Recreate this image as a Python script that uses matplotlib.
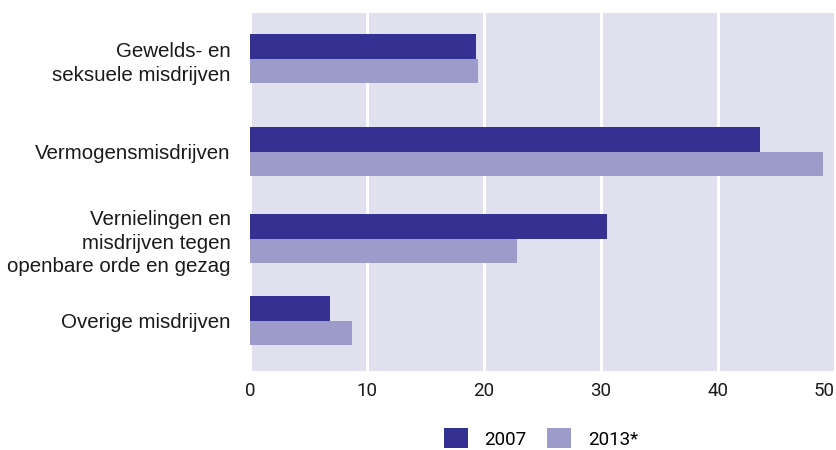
import matplotlib
matplotlib.use("Agg")
import matplotlib.pyplot as plt
from matplotlib.patches import Patch

# Data: share per offence category (%)
categories = [
    "Gewelds- en\nseksuele misdrijven",
    "Vermogensmisdrijven",
    "Vernielingen en\nmisdrijven tegen\nopenbare orde en gezag",
    "Overige misdrijven",
]
values_2007 = [19.3, 43.6, 30.5, 6.8]
values_2013 = [19.5, 49.0, 22.8, 8.7]
series_labels = ["2007", "2013*"]
x_ticks = [0, 10, 20, 30, 40, 50]

# Layout: vertical centre of each category group (axis units, top to bottom)
group_centres = [59, 152, 238.7, 321]
bar_h = 24.5

dark = "#343192"
light = "#9d9bc9"
bg = "#e1e0ef"

fig = plt.figure(figsize=(8.37, 4.5), dpi=100)
ax = fig.add_axes([250 / 837, 1 - 370.7 / 450, (837 - 250) / 837, (370.7 - 13) / 450])
ax.set_facecolor(bg)

ax.barh([c - bar_h / 2 for c in group_centres], values_2007, height=bar_h,
        color=dark, zorder=3, linewidth=0)
ax.barh([c + bar_h / 2 for c in group_centres], values_2013, height=bar_h,
        color=light, zorder=3, linewidth=0)

ax.set_xlim(0, 50.17)
ax.set_ylim(370.7, 13)
ax.set_xticks(x_ticks)
xlabels = ax.set_xticklabels([str(t) for t in x_ticks],
                             fontfamily=["Liberation Sans Narrow", "Roboto", "DejaVu Sans"],
                             fontsize=13.5, color="#1a1a1a")
xlabels[-1].set_horizontalalignment("right")
ax.set_yticks(group_centres)
ylabels = ax.set_yticklabels(categories, fontfamily=["Liberation Sans", "DejaVu Sans"],
                             fontsize=14.8, color="#1a1a1a", ha="right",
                             multialignment="right")
for lab in ylabels:
    lab.set_linespacing(1.32)
ax.tick_params(axis="both", length=0)
ax.tick_params(axis="y", pad=14)
ax.tick_params(axis="x", pad=8)
ax.xaxis.grid(True, color="white", linewidth=2.2, zorder=1)
ax.set_axisbelow(True)
for s in ax.spines.values():
    s.set_visible(False)

handles = [Patch(facecolor=dark, edgecolor="none"), Patch(facecolor=light, edgecolor="none")]
fig.legend(handles, series_labels, loc="center", bbox_to_anchor=(541 / 837, 1 - 438.5 / 450),
           ncol=2, frameon=False, handlelength=1.25, handleheight=1.25,
           handletextpad=0.9, columnspacing=1.1,
           prop={"family": ["Roboto", "DejaVu Sans"], "size": 13.5})

fig.savefig("out.png", dpi=100)
